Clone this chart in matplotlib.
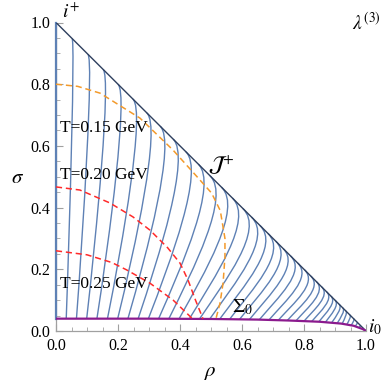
import numpy as np
import matplotlib
matplotlib.use("Agg")
import matplotlib.pyplot as plt
from matplotlib.path import Path
from matplotlib.patches import PathPatch
from matplotlib.ticker import MultipleLocator

plt.rcParams['mathtext.fontset'] = 'stix'
plt.rcParams['font.family'] = ['Liberation Serif', 'DejaVu Serif']

# ---- data ----
# foot of each flow line on Sigma_0 (rho) and the rho where it meets scri+
foot_rho = [0.033, 0.066, 0.099, 0.132, 0.166, 0.199, 0.232, 0.265, 0.298, 0.331,
            0.364, 0.397, 0.430, 0.463, 0.496, 0.528, 0.560, 0.592, 0.624, 0.656,
            0.687, 0.717, 0.746, 0.774, 0.800, 0.825, 0.848, 0.869, 0.889, 0.907,
            0.923, 0.938, 0.952, 0.965, 0.977, 0.988]
touch_rho = [0.052, 0.103, 0.152, 0.200, 0.248, 0.293, 0.336, 0.378, 0.419, 0.459,
             0.497, 0.534, 0.569, 0.603, 0.631, 0.658, 0.684, 0.709, 0.733, 0.757,
             0.780, 0.802, 0.822, 0.840, 0.857, 0.873, 0.887, 0.900, 0.913, 0.925,
             0.935, 0.948, 0.960, 0.971, 0.981, 0.990]

# initial surface Sigma_0
sig0_rho = [0.0, 0.30, 0.50, 0.65, 0.75, 0.85, 0.92, 0.96, 0.99, 1.0]
sig0_sigma = [0.040, 0.040, 0.039, 0.037, 0.034, 0.030, 0.024, 0.017, 0.006, 0.0]

# scri+
scri_rho = [0.0, 1.0]
scri_sigma = [1.0, 0.0]

# isotherms
T015_rho = [0.0, 0.07, 0.142, 0.271, 0.377, 0.455, 0.502, 0.530, 0.545, 0.545, 0.539, 0.529, 0.516]
T015_sigma = [0.80, 0.793, 0.771, 0.690, 0.587, 0.500, 0.447, 0.390, 0.300, 0.240, 0.156, 0.090, 0.040]
T020_rho = [0.0, 0.077, 0.174, 0.248, 0.303, 0.360, 0.400, 0.426, 0.450, 0.474]
T020_sigma = [0.467, 0.457, 0.415, 0.370, 0.327, 0.270, 0.220, 0.165, 0.100, 0.040]
T025_rho = [0.0, 0.10, 0.18, 0.228, 0.303, 0.378, 0.440]
T025_sigma = [0.260, 0.247, 0.222, 0.198, 0.155, 0.100, 0.040]

iso_labels = ["T=0.15 GeV", "T=0.20 GeV", "T=0.25 GeV"]
iso_label_sigma = [0.658, 0.506, 0.152]

tick_vals = [0.0, 0.2, 0.4, 0.6, 0.8, 1.0]
tick_labels = ["0.0", "0.2", "0.4", "0.6", "0.8", "1.0"]

# ---- figure ----
fig = plt.figure(figsize=(3.88, 3.84), dpi=100)
ax = fig.add_axes([56/388, 53/384, 310/388, 308.5/384])
ax.set_xlim(0, 1)
ax.set_ylim(0, 1)

blue = '#5E81B5'
for f, d in zip(foot_rho, touch_rho):
    s0 = np.interp(f, sig0_rho, sig0_sigma)
    p0 = (f, s0)
    p3 = (d, 1 - d)
    H = 1 - d - s0
    gap = d - f
    p1 = (f + 0.6 * gap, s0 + 0.35 * H)
    p2 = (d + 0.5 * gap, 1 - d - 0.5 * gap)
    path = Path([p0, p1, p2, p3], [Path.MOVETO, Path.CURVE4, Path.CURVE4, Path.CURVE4])
    ax.add_patch(PathPatch(path, fill=False, edgecolor=blue, lw=1.0))

# rho = 0 worldline
ax.plot([0, 0], [sig0_sigma[0], 1.0], color=blue, lw=1.6, clip_on=False, zorder=3)

ax.plot(scri_rho, scri_sigma, color='#2E3F5E', lw=1.0, zorder=4)
ax.plot(sig0_rho, sig0_sigma, color='#8B1A8E', lw=1.6, zorder=4)

ax.plot(T015_rho, T015_sigma, color='#F39A2B', lw=1.1, dashes=(4, 2.5), zorder=5)
ax.plot(T020_rho, T020_sigma, color='#FF2A2A', lw=1.1, dashes=(4, 2.5), zorder=5)
ax.plot(T025_rho, T025_sigma, color='#FF2A2A', lw=1.1, dashes=(4, 2.5), zorder=5)

for lab, s in zip(iso_labels, iso_label_sigma):
    ax.text(0.013, s, lab, fontsize=12.5, ha='left', va='center', zorder=6)

ax.text(0.02, 1.035, r'$i^{+}$', fontsize=14, ha='left', va='center')
ax.text(1.0, 1.0, r'$\lambda^{(3)}$', fontsize=14, ha='center', va='center')
ax.text(0.532, 0.535, r'$\mathcal{J}^{+}$', fontsize=16, ha='center', va='center')
ax.text(0.60, 0.078, r'$\Sigma_0$', fontsize=14, ha='center', va='center')
ax.text(1.03, 0.012, r'$i_0$', fontsize=14, ha='center', va='center')

fig.text(18/388, 1 - 178/384, r'$\sigma$', fontsize=15, ha='center', va='center')
fig.text(210/388, 1 - 372/384, r'$\rho$', fontsize=15, ha='center', va='center')

for side in ['top', 'right']:
    ax.spines[side].set_visible(False)
for side in ['left', 'bottom']:
    ax.spines[side].set_color('#A0A0A0')
    ax.spines[side].set_linewidth(0.9)

ax.set_xticks(tick_vals)
ax.set_xticklabels(tick_labels)
ax.set_yticks(tick_vals)
ax.set_yticklabels(tick_labels)
ax.xaxis.set_minor_locator(MultipleLocator(0.05))
ax.yaxis.set_minor_locator(MultipleLocator(0.05))
ax.tick_params(which='major', direction='in', length=5, width=0.8, color='#A0A0A0',
               labelsize=11.5)
ax.tick_params(axis='x', which='major', pad=5)
ax.tick_params(axis='y', which='major', pad=4)
ax.tick_params(which='minor', direction='in', length=2.8, width=0.6, color='#A0A0A0')

fig.savefig('out.png', dpi=100)
